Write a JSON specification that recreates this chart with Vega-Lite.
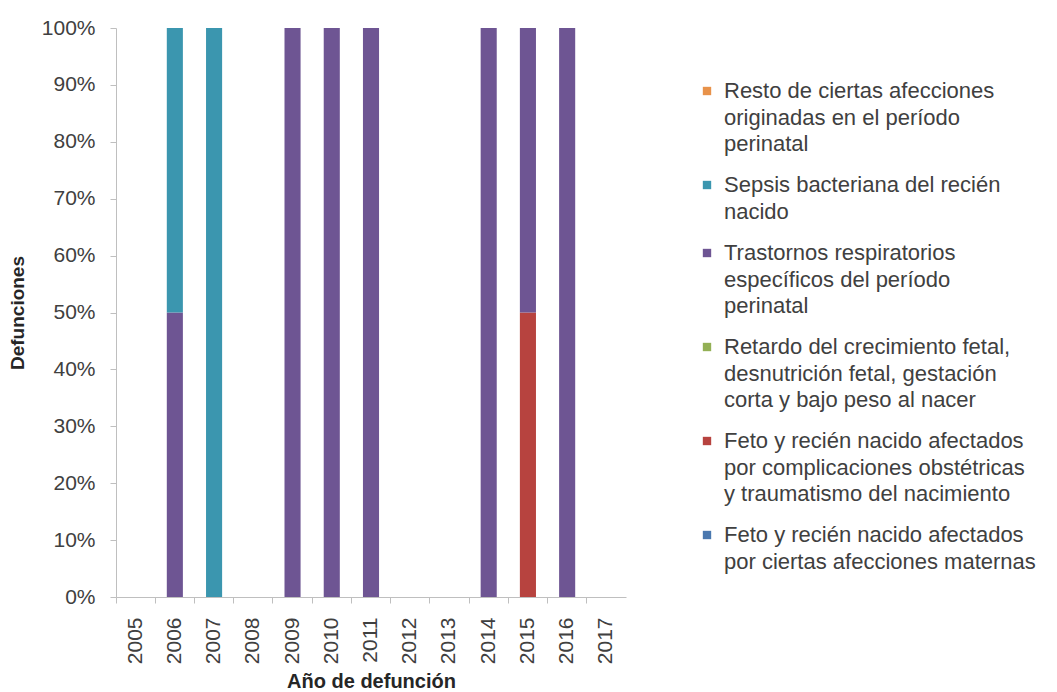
{
  "$schema": "https://vega.github.io/schema/vega-lite/v6.json",
  "autosize": {"type": "none"},
  "width": 510,
  "height": 569,
  "padding": {"left": 116, "top": 28, "right": 431, "bottom": 95},
  "background": "white",
  "config": {
    "font": "Liberation Sans",
    "view": {"stroke": null},
    "axis": {"labelColor": "#404040", "titleColor": "#262626", "domainColor": "#bfbfbf", "tickColor": "#bfbfbf", "grid": false},
    "style": {"guide-label": {"lineHeight": 26.5}}
  },
  "data": {
    "values": [
      {"anio": "2006", "causa": "Trastornos respiratorios específicos del período perinatal", "defunciones": 1, "orden": 3},
      {"anio": "2006", "causa": "Sepsis bacteriana del recién nacido", "defunciones": 1, "orden": 4},
      {"anio": "2007", "causa": "Sepsis bacteriana del recién nacido", "defunciones": 1, "orden": 4},
      {"anio": "2009", "causa": "Trastornos respiratorios específicos del período perinatal", "defunciones": 1, "orden": 3},
      {"anio": "2010", "causa": "Trastornos respiratorios específicos del período perinatal", "defunciones": 1, "orden": 3},
      {"anio": "2011", "causa": "Trastornos respiratorios específicos del período perinatal", "defunciones": 1, "orden": 3},
      {"anio": "2014", "causa": "Trastornos respiratorios específicos del período perinatal", "defunciones": 1, "orden": 3},
      {"anio": "2015", "causa": "Feto y recién nacido afectados por complicaciones obstétricas y traumatismo del nacimiento", "defunciones": 1, "orden": 1},
      {"anio": "2015", "causa": "Trastornos respiratorios específicos del período perinatal", "defunciones": 1, "orden": 3},
      {"anio": "2016", "causa": "Trastornos respiratorios específicos del período perinatal", "defunciones": 1, "orden": 3}
    ]
  },
  "mark": {"type": "bar"},
  "encoding": {
    "x": {
      "field": "anio",
      "type": "nominal",
      "title": "Año de defunción",
      "scale": {"domain": ["2005","2006","2007","2008","2009","2010","2011","2012","2013","2014","2015","2016","2017"], "paddingInner": 0.59, "paddingOuter": 0.295},
      "axis": {"labelAngle": -90, "labelFontSize": 21, "labelPadding": 14, "ticks": true, "tickSize": 6, "bandPosition": -0.7195, "titleFontSize": 20, "titleFontWeight": "bold", "titlePadding": 8}
    },
    "y": {
      "field": "defunciones",
      "type": "quantitative",
      "stack": "normalize",
      "title": "Defunciones",
      "scale": {"domain": [0, 1]},
      "axis": {"format": ".0%", "values": [0,0.1,0.2,0.3,0.4,0.5,0.6,0.7,0.8,0.9,1], "labelFontSize": 21, "tickSize": 6, "labelPadding": 15, "titleFontSize": 19, "titleFontWeight": "bold", "titlePadding": 14}
    },
    "order": {"field": "orden", "type": "quantitative", "sort": "ascending"},
    "color": {
      "field": "causa",
      "type": "nominal",
      "scale": {
        "domain": [
          "Resto de ciertas afecciones originadas en el período perinatal",
          "Sepsis bacteriana del recién nacido",
          "Trastornos respiratorios específicos del período perinatal",
          "Retardo del crecimiento fetal, desnutrición fetal, gestación corta y bajo peso al nacer",
          "Feto y recién nacido afectados por complicaciones obstétricas y traumatismo del nacimiento",
          "Feto y recién nacido afectados por ciertas afecciones maternas"
        ],
        "range": ["#E8924A", "#3B96AF", "#6E5593", "#93B055", "#B7433F", "#4A78AF"]
      },
      "legend": {
        "title": null,
        "orient": "none",
        "legendX": 580,
        "legendY": 52,
        "symbolType": "square",
        "symbolSize": 70,
        "symbolStrokeWidth": 0,
        "labelFontSize": 22,
        "labelColor": "#404040",
        "labelLimit": 400,
        "labelOffset": 6,
        "rowPadding": 19,
        "labelExpr": "datum.label == 'Resto de ciertas afecciones originadas en el período perinatal' ? ['Resto de ciertas afecciones', 'originadas en el período', 'perinatal'] : datum.label == 'Sepsis bacteriana del recién nacido' ? ['Sepsis bacteriana del recién', 'nacido'] : datum.label == 'Trastornos respiratorios específicos del período perinatal' ? ['Trastornos respiratorios', 'específicos del período', 'perinatal'] : datum.label == 'Retardo del crecimiento fetal, desnutrición fetal, gestación corta y bajo peso al nacer' ? ['Retardo del crecimiento fetal,', 'desnutrición fetal, gestación', 'corta y bajo peso al nacer'] : datum.label == 'Feto y recién nacido afectados por complicaciones obstétricas y traumatismo del nacimiento' ? ['Feto y recién nacido afectados', 'por complicaciones obstétricas', 'y traumatismo del nacimiento'] : ['Feto y recién nacido afectados', 'por ciertas afecciones maternas']"
      }
    }
  }
}
